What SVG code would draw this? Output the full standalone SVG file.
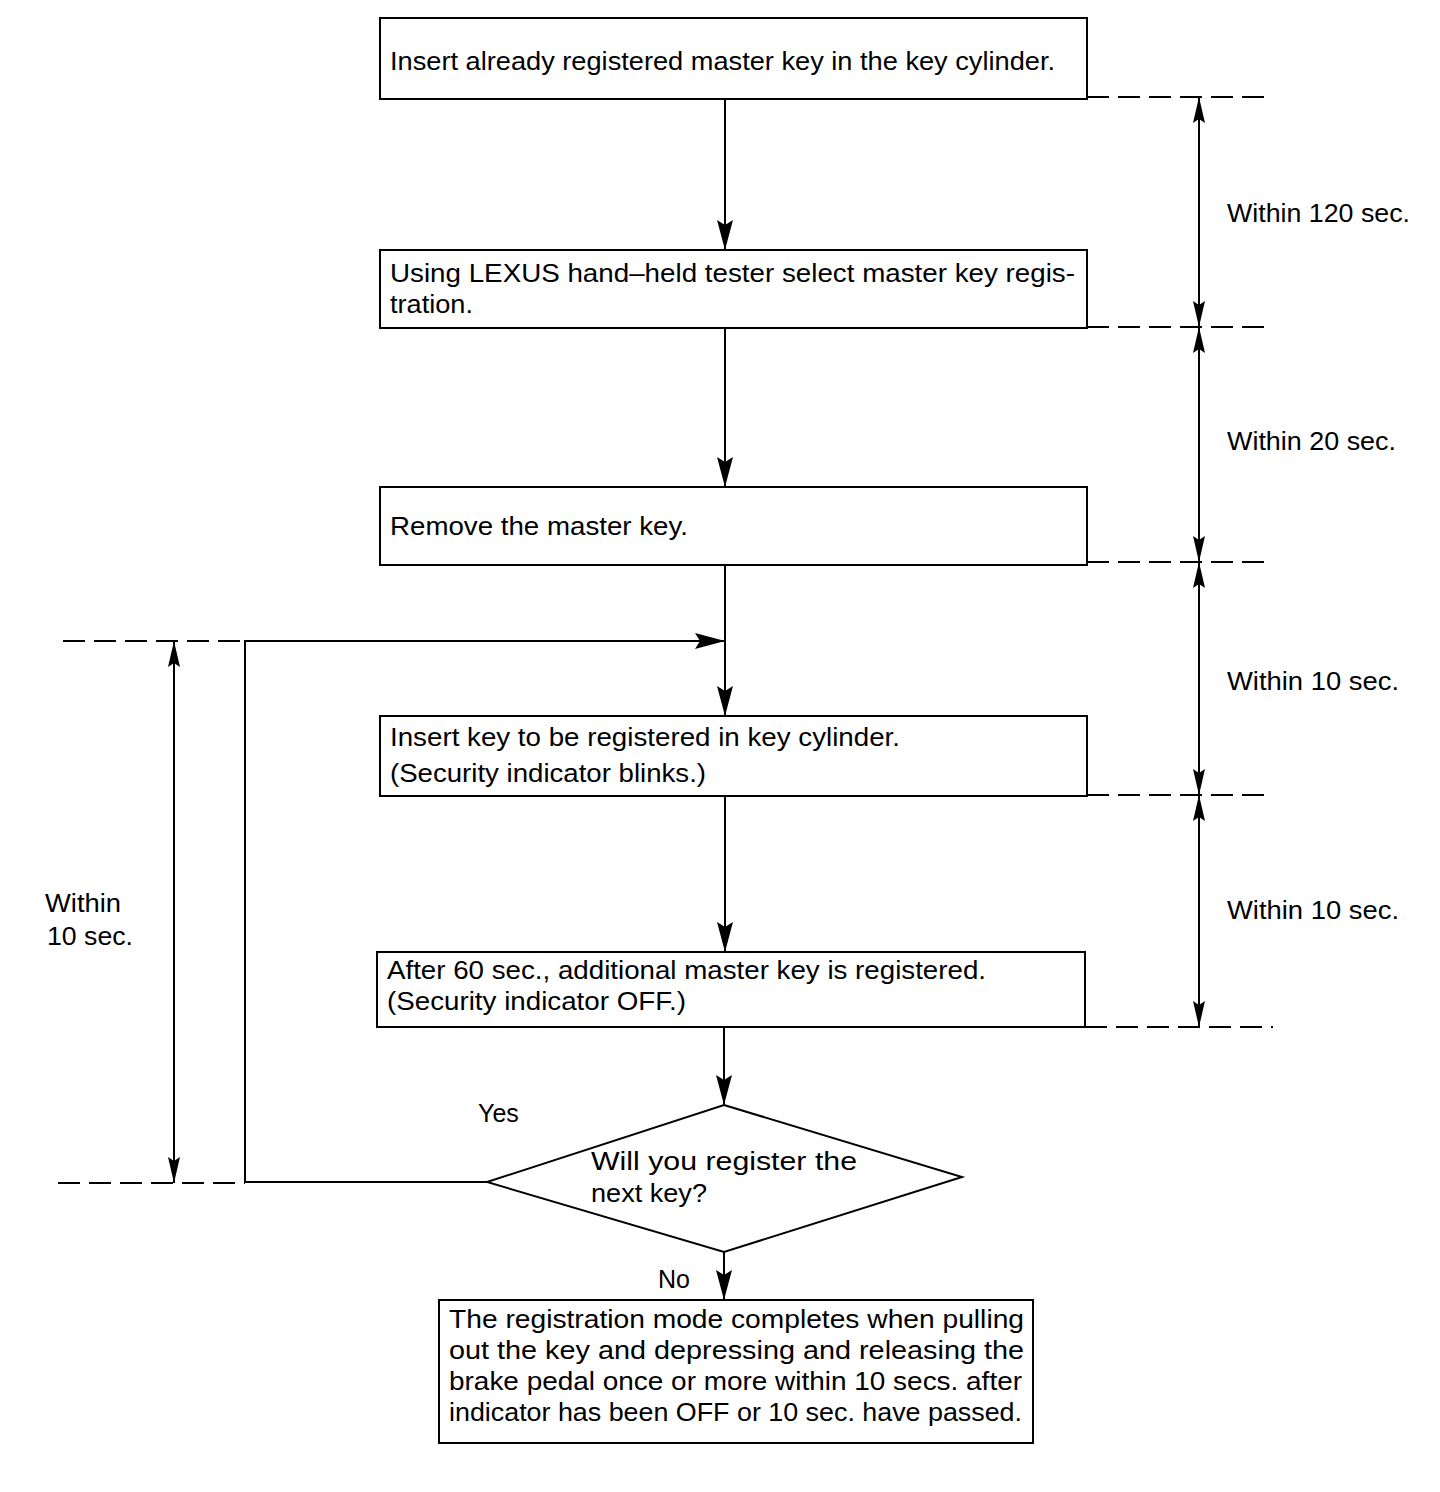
<svg xmlns="http://www.w3.org/2000/svg" width="1440" height="1492" viewBox="0 0 1440 1492">
<style>
text{font-family:"Liberation Sans",Arial,sans-serif;font-size:25px;fill:#000}
.box{fill:#fff;stroke:#000;stroke-width:2}
.ln{fill:none;stroke:#000;stroke-width:2}
.dash{fill:none;stroke:#000;stroke-width:2;stroke-dasharray:22,9}
</style>
<defs>
<marker id="ah" viewBox="0 0 30 16" refX="30" refY="8" markerWidth="30" markerHeight="16" markerUnits="userSpaceOnUse" orient="auto"><path d="M0,0 L30,8 L0,16 L5,8 Z" fill="#000"/></marker>
<marker id="dh" viewBox="0 0 26 12" refX="26" refY="6" markerWidth="26" markerHeight="12" markerUnits="userSpaceOnUse" orient="auto"><path d="M0,0 L26,6 L0,12 L4,6 Z" fill="#000"/></marker>
</defs>
<rect width="1440" height="1492" fill="#fff"/>
<g id="connectors">
<line class="ln" x1="725" y1="99" x2="725" y2="250" marker-end="url(#ah)"/>
<line class="ln" x1="725" y1="328" x2="725" y2="487" marker-end="url(#ah)"/>
<line class="ln" x1="725" y1="565" x2="725" y2="716" marker-end="url(#ah)"/>
<line class="ln" x1="725" y1="796" x2="725" y2="952" marker-end="url(#ah)"/>
<line class="ln" x1="724" y1="1027" x2="724" y2="1105" marker-end="url(#ah)"/>
<line class="ln" x1="724" y1="1252" x2="724" y2="1300" marker-end="url(#ah)"/>
<polyline class="ln" points="487,1182 245,1182 245,641 725,641" marker-end="url(#ah)"/>
<text x="478" y="1122">Yes</text>
<text x="658" y="1288">No</text>
</g>
<g id="dimensions">
<line class="dash" x1="1087" y1="97" x2="1273" y2="97"/>
<line class="dash" x1="1087" y1="327" x2="1273" y2="327"/>
<line class="dash" x1="1087" y1="562" x2="1273" y2="562"/>
<line class="dash" x1="1087" y1="795" x2="1273" y2="795"/>
<line class="dash" x1="1085" y1="1027" x2="1273" y2="1027"/>
<line class="ln" x1="1199" y1="212" x2="1199" y2="97" marker-end="url(#dh)"/>
<line class="ln" x1="1199" y1="212" x2="1199" y2="327" marker-end="url(#dh)"/>
<line class="ln" x1="1199" y1="445" x2="1199" y2="327" marker-end="url(#dh)"/>
<line class="ln" x1="1199" y1="445" x2="1199" y2="562" marker-end="url(#dh)"/>
<line class="ln" x1="1199" y1="680" x2="1199" y2="562" marker-end="url(#dh)"/>
<line class="ln" x1="1199" y1="680" x2="1199" y2="795" marker-end="url(#dh)"/>
<line class="ln" x1="1199" y1="910" x2="1199" y2="795" marker-end="url(#dh)"/>
<line class="ln" x1="1199" y1="910" x2="1199" y2="1027" marker-end="url(#dh)"/>
<text x="1227" y="222" textLength="183" lengthAdjust="spacingAndGlyphs">Within 120 sec.</text>
<text x="1227" y="450" textLength="169" lengthAdjust="spacingAndGlyphs">Within 20 sec.</text>
<text x="1227" y="690" textLength="172" lengthAdjust="spacingAndGlyphs">Within 10 sec.</text>
<text x="1227" y="919" textLength="172" lengthAdjust="spacingAndGlyphs">Within 10 sec.</text>
<line class="dash" x1="63" y1="641" x2="245" y2="641"/>
<line class="dash" x1="58" y1="1183" x2="245" y2="1183"/>
<line class="ln" x1="174" y1="910" x2="174" y2="641" marker-end="url(#dh)"/>
<line class="ln" x1="174" y1="910" x2="174" y2="1183" marker-end="url(#dh)"/>
<text x="45" y="912" textLength="76" lengthAdjust="spacingAndGlyphs">Within</text>
<text x="47" y="945" textLength="86" lengthAdjust="spacingAndGlyphs">10 sec.</text>
</g>
<g id="n1">
<rect class="box" x="380" y="18" width="707" height="81"/>
<text x="390" y="70" textLength="665" lengthAdjust="spacingAndGlyphs">Insert already registered master key in the key cylinder.</text>
</g>
<g id="n2">
<rect class="box" x="380" y="250" width="707" height="78"/>
<text x="390" y="282" textLength="685" lengthAdjust="spacingAndGlyphs">Using LEXUS hand–held tester select master key regis-</text>
<text x="390" y="313" textLength="83" lengthAdjust="spacingAndGlyphs">tration.</text>
</g>
<g id="n3">
<rect class="box" x="380" y="487" width="707" height="78"/>
<text x="390" y="535" textLength="298" lengthAdjust="spacingAndGlyphs">Remove the master key.</text>
</g>
<g id="n4">
<rect class="box" x="380" y="716" width="707" height="80"/>
<text x="390" y="746" textLength="510" lengthAdjust="spacingAndGlyphs">Insert key to be registered in key cylinder.</text>
<text x="390" y="782" textLength="316" lengthAdjust="spacingAndGlyphs">(Security indicator blinks.)</text>
</g>
<g id="n5">
<rect class="box" x="377" y="952" width="708" height="75"/>
<text x="387" y="979" textLength="599" lengthAdjust="spacingAndGlyphs">After 60 sec., additional master key is registered.</text>
<text x="387" y="1010" textLength="299" lengthAdjust="spacingAndGlyphs">(Security indicator OFF.)</text>
</g>
<g id="decision">
<polygon class="box" points="724,1105 962,1177 724,1252 487,1182"/>
<text x="591" y="1170" textLength="266" lengthAdjust="spacingAndGlyphs">Will you register the</text>
<text x="591" y="1202" textLength="116" lengthAdjust="spacingAndGlyphs">next key?</text>
</g>
<g id="n6">
<rect class="box" x="439" y="1300" width="594" height="143"/>
<text x="449" y="1328" textLength="575" lengthAdjust="spacingAndGlyphs">The registration mode completes when pulling</text>
<text x="449" y="1359" textLength="575" lengthAdjust="spacingAndGlyphs">out the key and depressing and releasing the</text>
<text x="449" y="1390" textLength="573" lengthAdjust="spacingAndGlyphs">brake pedal once or more within 10 secs. after</text>
<text x="449" y="1421" textLength="573" lengthAdjust="spacingAndGlyphs">indicator has been OFF or 10 sec. have passed.</text>
</g>
</svg>
